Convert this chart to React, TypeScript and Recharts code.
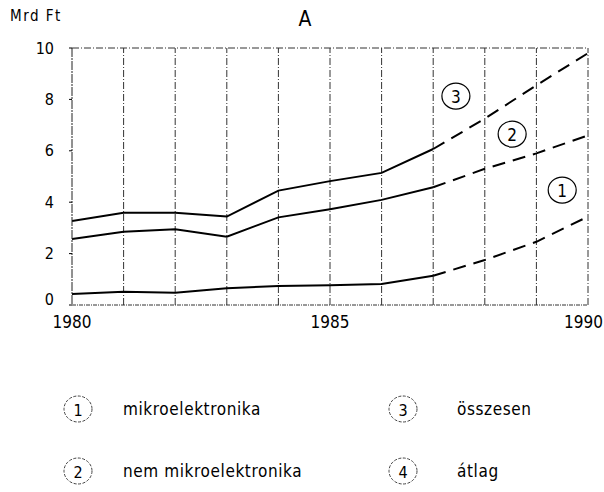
import React from 'react';
import { LineChart, Line, XAxis, YAxis, ReferenceLine, ReferenceDot } from 'recharts';

// ---- data ----
const years = [1980, 1981, 1982, 1983, 1984, 1985, 1986, 1987, 1988, 1989, 1990];
const microValues = [0.43, 0.52, 0.48, 0.65, 0.74, 0.77, 0.82, 1.14, 1.75, 2.46, 3.44];
const nonMicroValues = [2.57, 2.85, 2.95, 2.66, 3.41, 3.73, 4.09, 4.58, 5.3, 5.9, 6.6];
const totalValues = [3.27, 3.59, 3.59, 3.44, 4.45, 4.82, 5.14, 6.07, 7.25, 8.55, 9.8];
const forecastFromYear = 1987;

const xTicks = [1980, 1985, 1990];
const yTicks = [0, 2, 4, 6, 8, 10];
const gridYears = [1981, 1982, 1983, 1984, 1985, 1986, 1987, 1988, 1989, 1990];

// in-chart circled series numbers (positioned in data coordinates)
const calloutNumbers = ['1', '2', '3'];
const calloutYears = [1989.5, 1988.53, 1987.44];
const calloutValues = [4.47, 6.65, 8.13];

const legendNumbers = ['1', '2', '3', '4'];
const legendNames = ['mikroelektronika', 'nem mikroelektronika', 'összesen', 'átlag'];

const yUnit = 'Mrd Ft';
const title = 'A';

const NUM_FONT = '"Liberation Sans Narrow", "DejaVu Sans Condensed", sans-serif';
const TEXT_FONT = '"DejaVu Sans Condensed", "Liberation Sans Narrow", sans-serif';

const data = years.map((year, i) => ({
  year,
  micro: year <= forecastFromYear ? microValues[i] : null,
  microF: year >= forecastFromYear ? microValues[i] : null,
  nonMicro: year <= forecastFromYear ? nonMicroValues[i] : null,
  nonMicroF: year >= forecastFromYear ? nonMicroValues[i] : null,
  total: year <= forecastFromYear ? totalValues[i] : null,
  totalF: year >= forecastFromYear ? totalValues[i] : null,
}));

const GRID = { stroke: '#333', strokeWidth: 1, strokeDasharray: '7 2 1 2' };
const LINE_W = 2;
const DASH = '13 8';

const YTick = (props: any) => {
  const { x, y, payload } = props;
  const dy = payload.value === 0 ? -6 : 0;
  return (
    <text x={x} y={y + dy} textAnchor="end" dominantBaseline="central"
      fontFamily={NUM_FONT} fontSize={16} fill="#000">
      {payload.value}
    </text>
  );
};

const XTick = (props: any) => {
  const { x, y, payload } = props;
  const isLast = payload.value === xTicks[xTicks.length - 1];
  return (
    <text x={isLast ? 603 : x} y={y} textAnchor={isLast ? 'end' : 'middle'} dominantBaseline="central"
      fontFamily={NUM_FONT} fontSize={17} fill="#000">
      {payload.value}
    </text>
  );
};

const makeCallout = (label: string) => (props: any) => {
  const { cx, cy } = props;
  return (
    <g>
      <ellipse cx={cx} cy={cy} rx={14} ry={13} fill="none" stroke="#000" strokeWidth={1.2} />
      <text x={cx} y={cy + 1} textAnchor="middle" dominantBaseline="central"
        fontFamily={TEXT_FONT} fontSize={17} fill="#000">{label}</text>
    </g>
  );
};

const legendCircleX = [78, 403];
const legendTextX = [123, 457];
const legendRowY = [409, 471];

export default function App() {
  return (
    <div style={{ position: 'absolute', left: 0, top: 0, width: 604, height: 492, background: '#fff' }}>
      <LineChart width={604} height={492} data={data}
        margin={{ top: 48, right: 16, bottom: 157, left: 12 }}>
        <XAxis dataKey="year" type="number" domain={[1980, 1990]} ticks={xTicks}
          allowDataOverflow height={30}
          axisLine={{ stroke: '#333', strokeWidth: 1, strokeDasharray: '4 1 1 1' }}
          tickLine={false} tickSize={0} tickMargin={17} tick={<XTick />} />
        <YAxis type="number" domain={[0, 10]} ticks={yTicks} width={60}
          axisLine={{ stroke: '#222', strokeWidth: 1, strokeDasharray: '9 1 2 1' }}
          tickLine={{ stroke: '#000' }} tickSize={3} tickMargin={15} tick={<YTick />} />
        <ReferenceLine y={10} {...GRID} />
        {gridYears.map((yr) => (
          <ReferenceLine key={yr} x={yr} {...GRID} />
        ))}
        <Line dataKey="micro" stroke="#000" strokeWidth={LINE_W} dot={false} isAnimationActive={false} connectNulls={false} />
        <Line dataKey="microF" stroke="#000" strokeWidth={LINE_W} strokeDasharray={DASH} dot={false} isAnimationActive={false} />
        <Line dataKey="nonMicro" stroke="#000" strokeWidth={LINE_W} dot={false} isAnimationActive={false} />
        <Line dataKey="nonMicroF" stroke="#000" strokeWidth={LINE_W} strokeDasharray={DASH} dot={false} isAnimationActive={false} />
        <Line dataKey="total" stroke="#000" strokeWidth={LINE_W} dot={false} isAnimationActive={false} />
        <Line dataKey="totalF" stroke="#000" strokeWidth={LINE_W} strokeDasharray={DASH} dot={false} isAnimationActive={false} />
        {calloutNumbers.map((n, i) => (
          <ReferenceDot key={n} x={calloutYears[i]} y={calloutValues[i]} r={14}
            shape={makeCallout(n)} />
        ))}
      </LineChart>
      <svg width={604} height={492} style={{ position: 'absolute', left: 0, top: 0, pointerEvents: 'none' }}>
        <text x={10} y={16} dominantBaseline="central" fontFamily={TEXT_FONT} fontSize={15}
          letterSpacing={1.5} fill="#000">{yUnit}</text>
        <text x={305} y={19} textAnchor="middle" dominantBaseline="central" fontFamily={TEXT_FONT}
          fontSize={21} fill="#000">{title}</text>
        {legendNumbers.map((n, i) => {
          const col = i < 2 ? 0 : 1;
          const row = i % 2;
          const cx = legendCircleX[col];
          const cy = legendRowY[row];
          return (
            <g key={n}>
              <ellipse cx={cx} cy={cy} rx={14} ry={13} fill="none" stroke="#444" strokeWidth={1}
                strokeDasharray="3 1.5" />
              <text x={cx} y={cy + 1} textAnchor="middle" dominantBaseline="central"
                fontFamily={TEXT_FONT} fontSize={16} fill="#000">{n}</text>
              <text x={legendTextX[col]} y={cy} dominantBaseline="central"
                fontFamily={TEXT_FONT} fontSize={17} letterSpacing={0.6} fill="#000">{legendNames[i]}</text>
            </g>
          );
        })}
      </svg>
    </div>
  );
}
